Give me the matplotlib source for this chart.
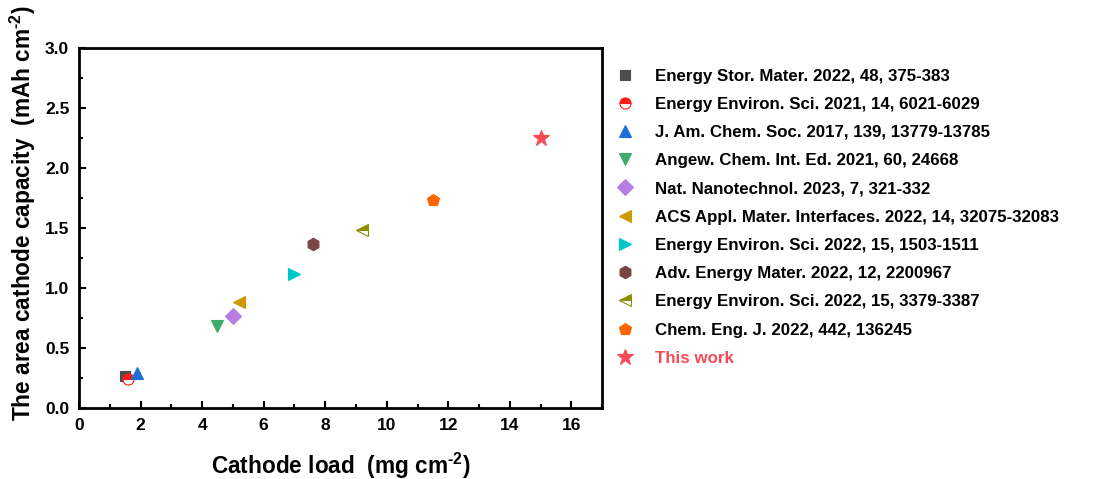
import matplotlib.pyplot as plt
from matplotlib.ticker import MultipleLocator

plt.rcParams['font.family'] = ['Liberation Sans', 'DejaVu Sans']
plt.rcParams['font.weight'] = 'bold'
plt.rcParams['mathtext.fontset'] = 'custom'
plt.rcParams['mathtext.rm'] = 'Liberation Sans:bold'
plt.rcParams['mathtext.bf'] = 'Liberation Sans:bold'
plt.rcParams['mathtext.default'] = 'bf'

# literature data: cathode load (mg cm-2) vs areal capacity (mAh cm-2)
refs = [
    'Energy Stor. Mater. 2022, 48, 375-383',
    'Energy Environ. Sci. 2021, 14, 6021-6029',
    'J. Am. Chem. Soc. 2017, 139, 13779-13785',
    'Angew. Chem. Int. Ed. 2021, 60, 24668',
    'Nat. Nanotechnol. 2023, 7, 321-332',
    'ACS Appl. Mater. Interfaces. 2022, 14, 32075-32083',
    'Energy Environ. Sci. 2022, 15, 1503-1511',
    'Adv. Energy Mater. 2022, 12, 2200967',
    'Energy Environ. Sci. 2022, 15, 3379-3387',
    'Chem. Eng. J. 2022, 442, 136245',
    'This work',
]
load = [1.5, 1.6, 1.9, 4.5, 5.0, 5.2, 7.0, 7.6, 9.2, 11.5, 15.0]
capacity = [0.27, 0.24, 0.29, 0.68, 0.77, 0.88, 1.12, 1.37, 1.48, 1.73, 2.25]

markers = ['s', 'o', '^', 'v', 'D', '<', '>', 'h', '<', 'p', '*']
colors = ['#4d4d4d', '#ff1a1a', '#1f6fd8', '#3cae6a', '#b57ee0', '#cc9900',
          '#00c8c8', '#7a4545', '#8c9000', '#ff6600', '#f64b55']
fills = ['full', 'top', 'full', 'full', 'full', 'full',
         'full', 'full', 'top', 'full', 'full']
sizes = [7, 8, 9, 9, 8, 9, 9, 9, 9, 9, 12]

fig = plt.figure(figsize=(11.03, 4.79), dpi=100)
ax = fig.add_axes([0.0716, 0.148, 0.4744, 0.752])

for i in range(len(refs)):
    ax.plot(load[i], capacity[i], linestyle='none', marker=markers[i],
            color=colors[i], markerfacecoloralt='white', fillstyle=fills[i],
            markeredgewidth=0.8, markersize=sizes[i], label=refs[i])

ax.set_xlim(0, 17)
ax.set_ylim(0, 3.0)
ax.xaxis.set_major_locator(MultipleLocator(2))
ax.xaxis.set_minor_locator(MultipleLocator(1))
ax.yaxis.set_major_locator(MultipleLocator(0.5))
ax.yaxis.set_minor_locator(MultipleLocator(0.25))
ax.yaxis.set_major_formatter(plt.FormatStrFormatter('%.1f'))
ax.tick_params(which='both', direction='in', width=1.5, labelsize=12.5, pad=7)
ax.tick_params(which='major', length=5)
ax.tick_params(which='minor', length=3)
for s in ax.spines.values():
    s.set_linewidth(2)

ax.set_xlabel('Cathode load  (mg cm$^{\\text{-2}}$)', fontsize=16.3,
              fontweight='bold', labelpad=13)
ax.set_ylabel('The area cathode capacity  (mAh cm$^{\\text{-2}}$)', fontsize=16.3,
              fontweight='bold')
ax.yaxis.set_label_coords(-0.078, 0.54)

leg = ax.legend(loc='upper left', bbox_to_anchor=(0.99, 0.985), frameon=False,
                fontsize=12.2, handletextpad=1.0, labelspacing=0.78,
                handlelength=1.5)
for t in leg.get_texts():
    if t.get_text() == 'This work':
        t.set_color('#f64b55')

fig.savefig('out.png', dpi=100)
